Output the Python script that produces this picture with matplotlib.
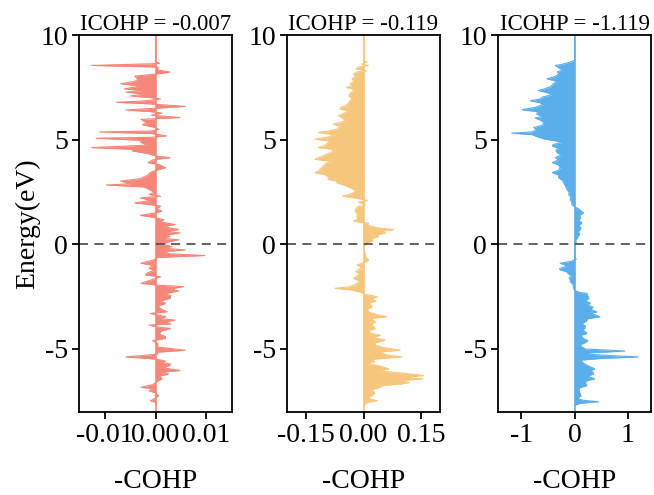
import numpy as np
import matplotlib
matplotlib.use("Agg")
import matplotlib.pyplot as plt

plt.rcParams['font.family'] = ['Liberation Serif', 'DejaVu Serif']
plt.rcParams['axes.unicode_minus'] = False

# energies (eV) and -COHP values, one list pair per panel
e1 = [10.0, 8.75, 8.65, 8.56, 8.48, 8.35, 8.24, 8.15, 8.05, 7.9, 7.8, 7.68, 7.58, 7.44, 7.36, 7.28,
      7.2, 7.1, 7.02, 6.95, 6.85, 6.8, 6.72, 6.6, 6.52, 6.43, 6.35, 6.28, 6.18, 6.07, 5.98, 5.83,
      5.72, 5.62, 5.5, 5.42, 5.38, 5.3, 5.19, 5.12, 5.08, 4.98, 4.87, 4.75, 4.63, 4.55, 4.47, 4.35,
      4.22, 4.15, 4.05, 3.91, 3.82, 3.67, 3.55, 3.45, 3.3, 3.15, 3.03, 2.9, 2.84, 2.75, 2.6, 2.5,
      2.39, 2.3, 2.23, 2.1, 1.99, 1.9, 1.83, 1.7, 1.59, 1.5, 1.39, 1.3, 1.19, 1.08, 0.95, 0.85,
      0.71, 0.62, 0.55, 0.45, 0.38, 0.3, 0.22, 0.12, 0.0, -0.1, -0.18, -0.26, -0.35, -0.45, -0.53,
      -0.62, -0.75, -0.9, -1.0, -1.14, -1.25, -1.35, -1.46, -1.55, -1.65, -1.86, -1.95, -2.02,
      -2.12, -2.23, -2.35, -2.45, -2.58, -2.7, -2.82, -2.95, -3.1, -3.22, -3.3, -3.45, -3.55,
      -3.62, -3.7, -3.8, -3.86, -3.95, -4.02, -4.15, -4.3, -4.4, -4.5, -4.6, -4.75, -4.9, -5.06,
      -5.15, -5.25, -5.38, -5.48, -5.58, -5.63, -5.72, -5.79, -5.9, -6.03, -6.12, -6.19, -6.3,
      -6.43, -6.55, -6.7, -6.83, -6.9, -7.0, -7.1, -7.23, -7.35, -7.47, -7.55, -7.7]
c1 = [0.0, 0.0, 0.0008, -0.0127, 0.0005, 0.0004, 0.0029, 0.0003, -0.0041, -0.0035, -0.0041,
      -0.0069, -0.003, -0.0062, -0.0025, -0.0059, -0.002, -0.005, -0.001, 0.001, -0.003, -0.0078,
      -0.001, 0.0059, 0.0005, -0.0059, -0.001, 0.0013, -0.0008, 0.0049, -0.0029, -0.0018, -0.0026,
      -0.0005, 0.0007, -0.001, -0.0111, -0.0008, 0.0022, -0.001, -0.0118, -0.003, -0.0029, -0.0015,
      -0.0127, -0.0045, -0.0046, -0.0016, 0.0003, 0.0029, -0.0005, -0.0015, 0.0007, 0.002, 0.0002,
      -0.001, -0.0016, -0.003, -0.0069, -0.005, -0.0098, -0.0023, -0.001, -0.0002, -0.0013, 0.001,
      -0.003, -0.001, -0.0041, -0.001, 0.001, 0.0002, 0.0013, -0.0002, -0.003, -0.0005, 0.0016,
      0.001, 0.0039, 0.0015, 0.0046, 0.002, 0.0049, 0.002, 0.0029, 0.001, 0.0046, 0.0025, 0.0015,
      0.0033, 0.0015, 0.0059, 0.0015, 0.003, 0.0098, 0.0005, -0.0005, -0.0029, -0.0005, -0.0013,
      -0.0003, -0.0015, -0.002, 0.001, -0.0003, -0.0029, 0.0005, 0.0056, 0.003, 0.0046, 0.0018,
      0.003, 0.0029, 0.001, 0.002, 0.0005, 0.0012, 0.0023, -0.001, 0.002, 0.001, 0.0039, 0.002,
      0.003, -0.0013, 0.0005, 0.003, 0.001, 0.0008, 0.002, 0.0019, -0.0006, 0.0005, 0.0003, 0.0059,
      0.0005, 0.0003, -0.0059, 0.0, 0.002, 0.001, 0.003, 0.0028, 0.0015, 0.0049, 0.001, 0.0026,
      0.0008, 0.0013, 0.0003, -0.0005, -0.0029, -0.0005, -0.0013, 0.0, 0.0006, 0.0, -0.001, 0.0, 0.0]

e2 = [10.0, 8.8, 8.72, 8.62, 8.56, 8.48, 8.4, 8.3, 8.24, 8.15, 8.05, 7.92, 7.8, 7.68, 7.6, 7.5,
      7.4, 7.3, 7.2, 7.1, 7.0, 6.87, 6.75, 6.63, 6.55, 6.47, 6.38, 6.28, 6.15, 6.05, 5.91, 5.83,
      5.75, 5.65, 5.51, 5.43, 5.35, 5.25, 5.15, 5.03, 4.95, 4.87, 4.75, 4.63, 4.55, 4.45, 4.31,
      4.2, 4.07, 3.98, 3.85, 3.67, 3.55, 3.43, 3.33, 3.2, 3.11, 3.03, 2.95, 2.83, 2.71, 2.6, 2.5,
      2.4, 2.31, 2.2, 2.1, 2.02, 1.9, 1.8, 1.7, 1.59, 1.48, 1.35, 1.22, 1.11, 1.02, 0.92, 0.82,
      0.71, 0.63, 0.55, 0.45, 0.38, 0.28, 0.18, 0.08, 0.0, -0.18, -0.4, -0.6, -0.74, -0.85, -0.98,
      -1.1, -1.2, -1.3, -1.4, -1.52, -1.62, -1.75, -1.9, -2.02, -2.1, -2.18, -2.28, -2.38, -2.5,
      -2.6, -2.7, -2.82, -2.98, -3.1, -3.25, -3.38, -3.46, -3.55, -3.7, -3.85, -4.02, -4.15, -4.25,
      -4.34, -4.45, -4.58, -4.7, -4.82, -4.92, -5.06, -5.15, -5.28, -5.38, -5.5, -5.6, -5.7, -5.8,
      -5.95, -6.05, -6.15, -6.27, -6.35, -6.43, -6.52, -6.6, -6.67, -6.75, -6.85, -6.95, -7.1,
      -7.23, -7.35, -7.47, -7.55, -7.7]
c2 = [0.0, 0.0, 0.009, -0.005, 0.013, -0.013, -0.02, 0.008, -0.018, -0.026, -0.02, -0.03, -0.025,
      -0.035, -0.03, -0.044, -0.022, -0.03, -0.035, -0.039, -0.03, -0.035, -0.04, -0.048, -0.06,
      -0.061, -0.04, -0.05, -0.066, -0.055, -0.048, -0.06, -0.079, -0.06, -0.07, -0.09, -0.118,
      -0.075, -0.09, -0.127, -0.09, -0.092, -0.1, -0.118, -0.08, -0.08, -0.096, -0.11, -0.127,
      -0.085, -0.1, -0.11, -0.115, -0.127, -0.1, -0.09, -0.092, -0.07, -0.07, -0.05, -0.035,
      -0.022, -0.025, -0.035, -0.055, -0.015, 0.01, -0.013, 0.005, -0.015, -0.02, -0.022, -0.015,
      -0.018, -0.015, -0.026, 0.013, 0.01, 0.03, 0.079, 0.045, 0.057, 0.035, 0.04, 0.02, 0.025,
      0.01, 0.005, 0.0, 0.003, 0.005, 0.013, 0.005, -0.017, -0.005, -0.012, -0.02, -0.01, -0.018,
      -0.026, -0.01, -0.02, -0.035, -0.075, -0.03, -0.008, 0.003, 0.036, 0.02, 0.032, 0.015, 0.023,
      0.01, 0.015, 0.04, 0.061, 0.02, 0.031, 0.02, 0.031, 0.012, 0.02, 0.044, 0.025, 0.057, 0.03,
      0.031, 0.05, 0.096, 0.04, 0.06, 0.1, 0.018, 0.03, 0.01, 0.04, 0.066, 0.04, 0.1, 0.158, 0.11,
      0.155, 0.09, 0.12, 0.1, 0.05, 0.04, 0.02, 0.03, 0.022, 0.01, 0.036, 0.01, 0.0]

e3 = [10.0, 8.8, 8.72, 8.6, 8.56, 8.45, 8.35, 8.25, 8.15, 8.08, 8.0, 7.92, 7.8, 7.68, 7.55, 7.45,
      7.36, 7.25, 7.15, 7.05, 6.95, 6.87, 6.78, 6.68, 6.55, 6.44, 6.35, 6.23, 6.12, 6.04, 5.95,
      5.83, 5.7, 5.59, 5.5, 5.46, 5.38, 5.32, 5.25, 5.15, 5.05, 4.95, 4.87, 4.78, 4.71, 4.6, 4.5,
      4.39, 4.28, 4.15, 4.05, 3.91, 3.8, 3.67, 3.55, 3.43, 3.32, 3.19, 3.05, 2.95, 2.8, 2.63, 2.5,
      2.39, 2.25, 2.15, 2.0, 1.91, 1.8, 1.7, 1.6, 1.51, 1.4, 1.27, 1.15, 1.03, 0.9, 0.8, 0.71, 0.6,
      0.5, 0.4, 0.3, 0.2, 0.1, 0.0, -0.2, -0.4, -0.6, -0.7, -0.8, -0.9, -0.98, -1.05, -1.15, -1.22,
      -1.3, -1.4, -1.5, -1.6, -1.7, -1.78, -1.9, -2.05, -2.2, -2.3, -2.34, -2.45, -2.58, -2.7, -2.8,
      -2.9, -3.0, -3.1, -3.22, -3.3, -3.38, -3.46, -3.55, -3.65, -3.78, -3.9, -4.0, -4.1, -4.2,
      -4.26, -4.35, -4.5, -4.6, -4.7, -4.8, -4.9, -5.0, -5.1, -5.18, -5.25, -5.32, -5.38, -5.45,
      -5.54, -5.62, -5.7, -5.8, -5.95, -6.05, -6.12, -6.19, -6.3, -6.43, -6.5, -6.6, -6.75, -6.85,
      -6.99, -7.1, -7.25, -7.35, -7.45, -7.52, -7.6, -7.7]
c3 = [0.0, 0.0, -0.08, -0.25, -0.36, -0.3, -0.23, -0.32, -0.3, -0.33, -0.4, -0.52, -0.33, -0.4,
      -0.45, -0.55, -0.68, -0.5, -0.43, -0.6, -0.65, -0.83, -0.65, -0.6, -0.75, -0.99, -0.7, -0.71,
      -0.6, -0.74, -0.65, -0.58, -0.6, -0.77, -0.72, -0.74, -0.8, -1.18, -0.8, -0.7, -0.58, -0.35,
      -0.24, -0.4, -0.42, -0.3, -0.35, -0.33, -0.25, -0.36, -0.3, -0.42, -0.3, -0.27, -0.3, -0.42,
      -0.3, -0.3, -0.22, -0.21, -0.17, -0.14, -0.1, -0.11, -0.07, -0.08, -0.05, -0.05, 0.0, 0.08,
      0.12, 0.17, 0.1, 0.11, 0.08, 0.14, 0.08, 0.12, 0.11, 0.07, 0.1, 0.07, 0.05, 0.02, 0.03, 0.01,
      0.0, 0.01, 0.0, 0.03, -0.05, -0.27, -0.18, -0.15, -0.28, -0.27, -0.15, -0.12, -0.05, -0.1,
      -0.08, -0.08, -0.03, -0.02, 0.0, 0.1, 0.23, 0.25, 0.27, 0.2, 0.3, 0.24, 0.35, 0.3, 0.42, 0.3,
      0.4, 0.48, 0.25, 0.23, 0.14, 0.2, 0.2, 0.15, 0.22, 0.23, 0.12, 0.17, 0.25, 0.2, 0.1, 0.14,
      0.2, 0.95, 0.3, 0.25, 0.7, 1.2, 0.5, 0.1, 0.15, 0.18, 0.25, 0.38, 0.3, 0.35, 0.36, 0.25, 0.38,
      0.25, 0.2, 0.23, 0.1, 0.08, 0.1, 0.12, 0.05, 0.15, 0.45, 0.1, 0.0]

titles = ['ICOHP = -0.007', 'ICOHP = -0.119', 'ICOHP = -1.119']
xlims = [(-0.0152, 0.0152), (-0.2, 0.2), (-1.44, 1.44)]
xticks = [[-0.01, 0.0, 0.01], [-0.15, 0.0, 0.15], [-1, 0, 1]]
xticklabels = [['-0.01', '0.00', '0.01'], ['-0.15', '0.00', '0.15'], ['-1', '0', '1']]
colors = ['#F4877A', '#F7C67D', '#5AAEEA']
energies = [e1, e2, e3]
cohps = [c1, c2, c3]

fig = plt.figure(figsize=(6.54, 4.95), dpi=100)
lefts = [79 / 654, 287 / 654, 498 / 654]
w = 153 / 654
bottom = 1 - 411.7 / 495
h = (411.7 - 35.3) / 495

for i in range(3):
    ax = fig.add_axes([lefts[i], bottom, w, h])
    E = np.array(energies[i])
    C = np.array(cohps[i])
    ax.fill_betweenx(E, 0, C, color=colors[i], linewidth=0)
    ax.plot(C, E, color=colors[i], linewidth=0.8)
    ax.axvline(0, color=colors[i], linewidth=1.2, ymin=0, ymax=1)
    ax.axhline(0, color='#555555', linewidth=1.3, linestyle=(0, (5, 3.5)))
    ax.set_xlim(*xlims[i])
    ax.set_ylim(-8, 10)
    ax.set_yticks([-5, 0, 5, 10])
    ax.set_xticks(xticks[i])
    ax.set_xticklabels(xticklabels[i])
    ax.tick_params(direction='out', length=5, width=1.3, labelsize=20, pad=3)
    for sp in ax.spines.values():
        sp.set_linewidth(1.3)
    ax.set_title(titles[i], fontsize=16.5, pad=2)
    ax.set_xlabel('-COHP', fontsize=20, labelpad=15)
    if i == 0:
        ax.set_ylabel('Energy(eV)', fontsize=20, labelpad=0)

plt.savefig('out.png', dpi=100)
